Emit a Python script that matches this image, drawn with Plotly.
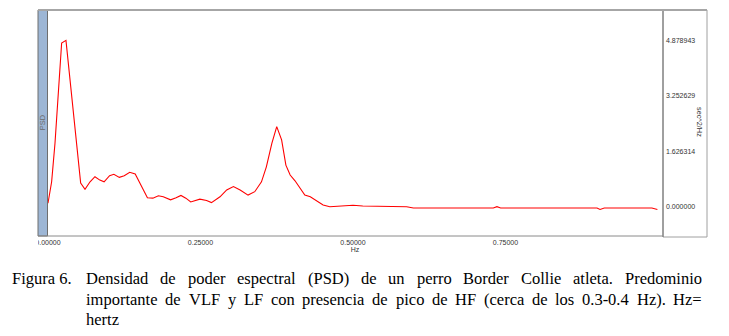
import plotly.graph_objects as go

# ---------------- data ----------------
freq_hz = [0.000, 0.006, 0.0115, 0.017, 0.0224, 0.0295, 0.036, 0.0415, 0.047, 0.0536,
           0.0607, 0.069, 0.077, 0.085, 0.092, 0.101, 0.108, 0.117, 0.125, 0.134,
           0.143, 0.150, 0.156, 0.163, 0.172, 0.181, 0.189, 0.201, 0.210, 0.218,
           0.226, 0.234, 0.249, 0.260, 0.268, 0.282, 0.293, 0.304, 0.315, 0.328,
           0.339, 0.350, 0.358, 0.367, 0.375, 0.383, 0.390, 0.397, 0.405, 0.413,
           0.421, 0.430, 0.440, 0.451, 0.462, 0.484, 0.500, 0.516, 0.540, 0.588,
           0.599, 0.650, 0.700, 0.730, 0.736, 0.742, 0.800, 0.850, 0.900, 0.905,
           0.912, 0.950, 0.990, 0.999]
psd_sec2_hz = [0.10, 0.73, 1.86, 3.42, 4.80, 4.88, 3.72, 2.74, 1.66, 0.69,
               0.51, 0.73, 0.88, 0.78, 0.73, 0.91, 0.95, 0.86, 0.91, 1.01,
               0.96, 0.73, 0.49, 0.26, 0.25, 0.32, 0.29, 0.20, 0.26, 0.33,
               0.25, 0.14, 0.22, 0.18, 0.12, 0.29, 0.49, 0.59, 0.49, 0.34,
               0.44, 0.73, 1.17, 1.86, 2.35, 1.96, 1.22, 0.93, 0.76, 0.54,
               0.34, 0.29, 0.18, 0.05, 0.00, 0.02, 0.04, 0.02, 0.01, 0.00,
               -0.04, -0.04, -0.04, -0.04, 0.00, -0.04, -0.04, -0.04, -0.04, -0.08,
               -0.04, -0.04, -0.04, -0.08]

x_tick_vals = [0.0, 0.25, 0.5, 0.75]
x_tick_text = ["0.00000", "0.25000", "0.50000", "0.75000"]
y_tick_vals = [0.0, 1.626314, 3.252629, 4.878943]
y_tick_text = ["0.000000", "1.626314", "3.252629", "4.878943"]

x_title = "Hz"
y_left_title = "PSD"
y_right_title = "sec^2/Hz"
caption_label = "Figura 6."
caption_lines = [
    "Densidad de poder espectral (PSD) de un perro Border Collie atleta. Predominio",
    "importante de VLF y LF con presencia de pico de HF (cerca de los 0.3-0.4 Hz). Hz=",
    "hertz",
]

# ---------------- layout geometry (page pixels) ----------------
OFF = 8                      # default body margin of the html page
PAGE_W, PAGE_H = 729, 336
W, H = PAGE_W - OFF, PAGE_H - OFF
L, R, T, B = 47, 663, 10, 236   # plot area in page pixels


def px(x):
    return (x - L) / (R - L)


def py(y):
    return (B - y) / (B - T)


# Times / Liberation Serif advance widths (1/1000 em) for justification
TIMES = {' ': 250, '(': 333, ')': 333, '.': 250, '-': 333, '=': 564, '^': 469, '/': 278}
for ch in "0123456789":
    TIMES[ch] = 500
TIMES.update(dict(zip("ABCDEFGHIJKLMNOPQRSTUVWXYZ",
                      [722, 667, 667, 722, 611, 556, 722, 722, 333, 389, 722, 611, 889,
                       722, 722, 556, 722, 667, 556, 611, 722, 722, 944, 722, 722, 611])))
TIMES.update(dict(zip("abcdefghijklmnopqrstuvwxyz",
                      [444, 500, 444, 500, 444, 333, 500, 500, 278, 278, 500, 278, 778,
                       500, 500, 500, 500, 333, 389, 278, 500, 500, 722, 500, 500, 444])))


def tw(s, fs):
    return sum(TIMES.get(c, 500) for c in s) / 1000.0 * fs


fig = go.Figure()
fig.add_trace(go.Scatter(
    x=freq_hz, y=psd_sec2_hz, mode="lines",
    line=dict(color="#ff0000", width=1.1, shape="linear"),
    hoverinfo="skip", showlegend=False,
))

tick_font = dict(family="Liberation Sans, Arial, sans-serif", size=7, color="#333333")

fig.update_layout(
    width=W, height=H,
    margin=dict(l=L - OFF, r=PAGE_W - R, t=T - OFF, b=PAGE_H - B, pad=0),
    paper_bgcolor="white", plot_bgcolor="white",
    showlegend=False,
    xaxis=dict(
        range=[-0.0016, 1.0082], tickmode="array",
        tickvals=x_tick_vals, ticktext=x_tick_text,
        showgrid=False, zeroline=False, showline=False, ticks="",
        tickfont=tick_font, ticklabelstandoff=1,
        title=dict(text=x_title, font=tick_font, standoff=2),
    ),
    yaxis=dict(
        range=[-0.86, 5.77], side="right", tickmode="array",
        tickvals=y_tick_vals, ticktext=y_tick_text,
        showgrid=False, zeroline=False, showline=False, ticks="",
        tickfont=tick_font, ticklabelstandoff=2,
    ),
)

shapes = []
# blue PSD band at the left
shapes.append(dict(type="rect", xref="paper", yref="paper",
                   x0=px(38), x1=px(47.5), y0=py(236), y1=py(10),
                   fillcolor="#9db6d5", line=dict(color="#6e6e6e", width=1), layer="above"))
# right axis panel
shapes.append(dict(type="rect", xref="paper", yref="paper",
                   x0=px(663), x1=px(707), y0=py(237), y1=py(10),
                   fillcolor="rgba(0,0,0,0)", line=dict(color="#a0a0a0", width=1), layer="above"))
shapes.append(dict(type="line", xref="paper", yref="paper",
                   x0=px(663), x1=px(663), y0=py(237), y1=py(10),
                   line=dict(color="#707070", width=1), layer="above"))
# bottom axis line
shapes.append(dict(type="line", xref="paper", yref="paper",
                   x0=px(38), x1=px(663), y0=py(236), y1=py(236),
                   line=dict(color="#8a8a8a", width=1), layer="above"))
# top border
shapes.append(dict(type="line", xref="paper", yref="paper",
                   x0=px(38), x1=px(707), y0=py(10), y1=py(10),
                   line=dict(color="#a6a6a6", width=2), layer="above"))
# white cover clipping the first x tick label at the panel edge
shapes.append(dict(type="rect", xref="paper", yref="paper",
                   x0=px(OFF), x1=px(38), y0=py(250), y1=py(237),
                   fillcolor="white", line=dict(width=0), layer="above"))
fig.update_layout(shapes=shapes)

ann = []
ann.append(dict(text=y_left_title, xref="paper", yref="paper", x=px(42.7), y=py(122.5),
                textangle=-90, showarrow=False, xanchor="center", yanchor="middle",
                font=dict(family="Liberation Sans, Arial, sans-serif", size=7.5, color="#6a6a6a")))
ann.append(dict(text=y_right_title, xref="paper", yref="paper", x=px(700), y=py(122),
                textangle=90, showarrow=False, xanchor="center", yanchor="middle",
                font=dict(family="Liberation Sans, Arial, sans-serif", size=7.3, color="#333333")))

# caption (serif, justified)
FS = 16.5
cap_font = dict(family="Liberation Serif, Times New Roman, serif", size=FS, color="#000000")
CAP_LEFT, BODY_LEFT, CAP_RIGHT = 12, 86, 702
baselines = [284.5, 305.0, 325.5]


def add_text(s, x_px, base):
    ann.append(dict(text=s, xref="paper", yref="paper", x=px(x_px), y=py(base - 0.3375 * FS),
                    showarrow=False, xanchor="left", yanchor="middle",
                    borderpad=0, borderwidth=0, font=cap_font))


add_text(caption_label, CAP_LEFT, baselines[0])
for i, line in enumerate(caption_lines):
    words = line.split(" ")
    if i < len(caption_lines) - 1 and len(words) > 1:
        total = sum(tw(w, FS) for w in words)
        gap = (CAP_RIGHT - BODY_LEFT - total) / (len(words) - 1)
        xcur = BODY_LEFT
        for w in words:
            add_text(w, xcur, baselines[i])
            xcur += tw(w, FS) + gap
    else:
        add_text(line, BODY_LEFT, baselines[i])

fig.update_layout(annotations=ann)
fig.write_html("out.html")
